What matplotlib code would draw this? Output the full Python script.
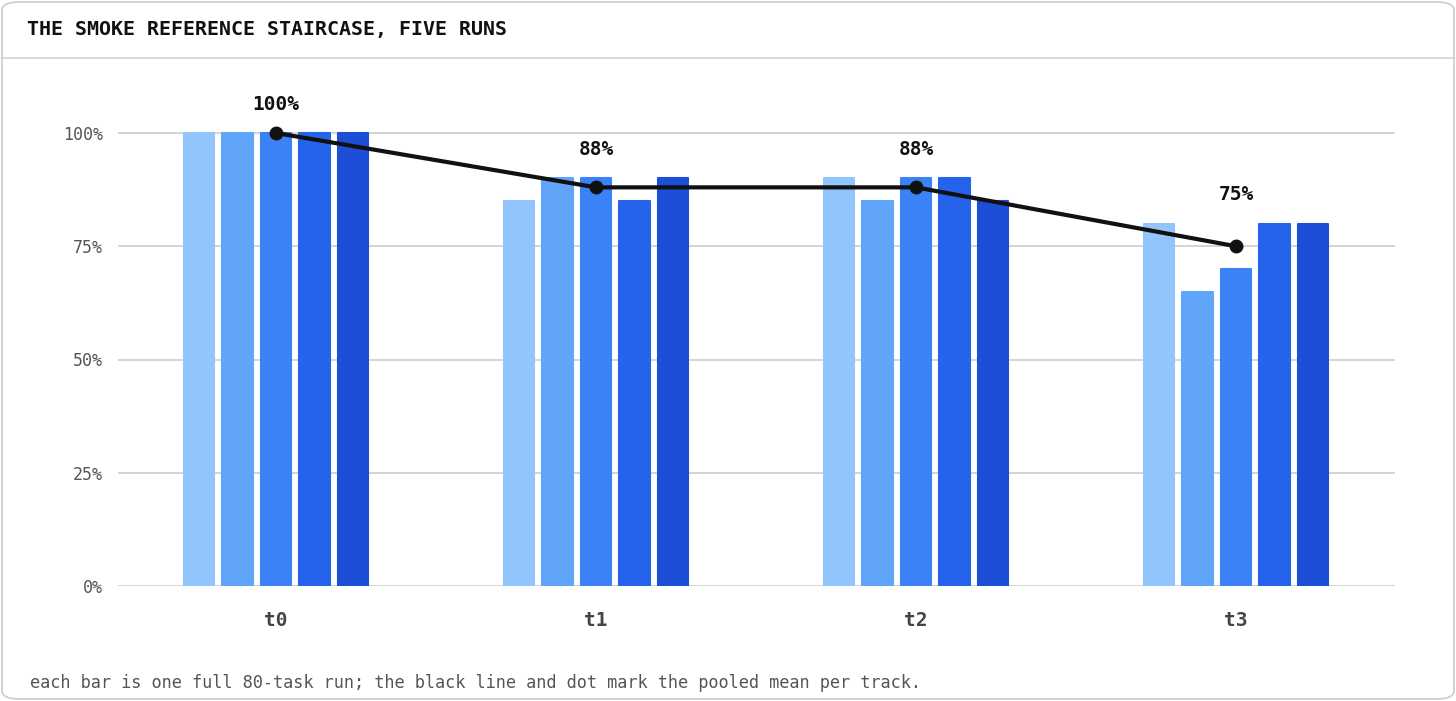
import matplotlib.pyplot as plt
from matplotlib.patches import FancyBboxPatch
import numpy as np

tracks = ['t0', 't1', 't2', 't3']
run1 = [100, 85, 90, 80]
run2 = [100, 90, 85, 65]
run3 = [100, 90, 90, 70]
run4 = [100, 85, 90, 80]
run5 = [100, 90, 85, 80]
runs = [run1, run2, run3, run4, run5]
colors = ['#93c5fd', '#60a5fa', '#3b82f6', '#2563eb', '#1d4ed8']
yticks = [0, 25, 50, 75, 100]

mono = 'DejaVu Sans Mono'
fig = plt.figure(figsize=(14.56, 7.01), dpi=100)
fig.patch.set_facecolor('white')

# card frame and title rule
card = FancyBboxPatch((2 / 1456, 2 / 701), 1452 / 1456, 697 / 701,
                      boxstyle='round,pad=0,rounding_size=0.012',
                      transform=fig.transFigure, facecolor='none',
                      edgecolor='#cfcfcf', linewidth=1.3, zorder=5)
fig.patches.append(card)
fig.add_artist(plt.Line2D([2 / 1456, 1454 / 1456], [1 - 58 / 701] * 2,
                          transform=fig.transFigure, color='#d6d6d6', lw=1.3))

fig.text(27 / 1456, 1 - 30 / 701, 'THE SMOKE REFERENCE STAIRCASE, FIVE RUNS',
         family=mono, fontweight='bold', fontsize=14.4, color='#111111',
         va='center', ha='left')
fig.text(30 / 1456, 1 - 683 / 701,
         'each bar is one full 80-task run; the black line and dot mark the pooled mean per track.',
         family=mono, fontsize=12.15, color='#555555', va='center', ha='left')

ax = fig.add_axes([118 / 1456, 115 / 701, (1395 - 118) / 1456, (586 - 75) / 701])
ymax = 100 * (586 - 75) / (586 - 133)
ax.set_ylim(0, ymax)
ax.set_xlim(-0.494, 3.497)

x = np.arange(len(tracks))
step = 0.12
width = 0.095
for k, (vals, c) in enumerate(zip(runs, colors)):
    bars = ax.bar(x + (k - 2) * step, vals, width=width, color=c, edgecolor=c,
                  linewidth=1.5, zorder=2)
    for b in bars:
        b.set_joinstyle('round')

means = [np.mean([r[i] for r in runs]) for i in range(len(tracks))]
ax.plot(x, means, color='#111111', lw=3, marker='o', markersize=9, zorder=4)
for i in range(len(tracks)):
    top = max(r[i] for r in runs)
    ax.annotate(f'{means[i]:.0f}%', (x[i], top), xytext=(0, 29),
                textcoords='offset pixels', ha='center', va='center',
                family=mono, fontweight='bold', fontsize=14, color='#111111')

ax.set_yticks(yticks)
ax.set_yticklabels([f'{v}%' for v in yticks])
ax.set_xticks(x)
ax.set_xticklabels(tracks)
for s in ax.spines.values():
    s.set_visible(False)
ax.grid(axis='y', color='#d4d4d4', lw=1.4, zorder=0)
ax.set_axisbelow(True)
ax.tick_params(axis='both', length=0)
ax.tick_params(axis='y', pad=11, labelsize=12, labelcolor='#555555')
ax.tick_params(axis='x', pad=18, labelsize=14, labelcolor='#444444')
for t in ax.get_yticklabels():
    t.set_family(mono)
for t in ax.get_xticklabels():
    t.set_family(mono)
    t.set_fontweight('bold')

fig.savefig('out.png', dpi=100, facecolor='white')
